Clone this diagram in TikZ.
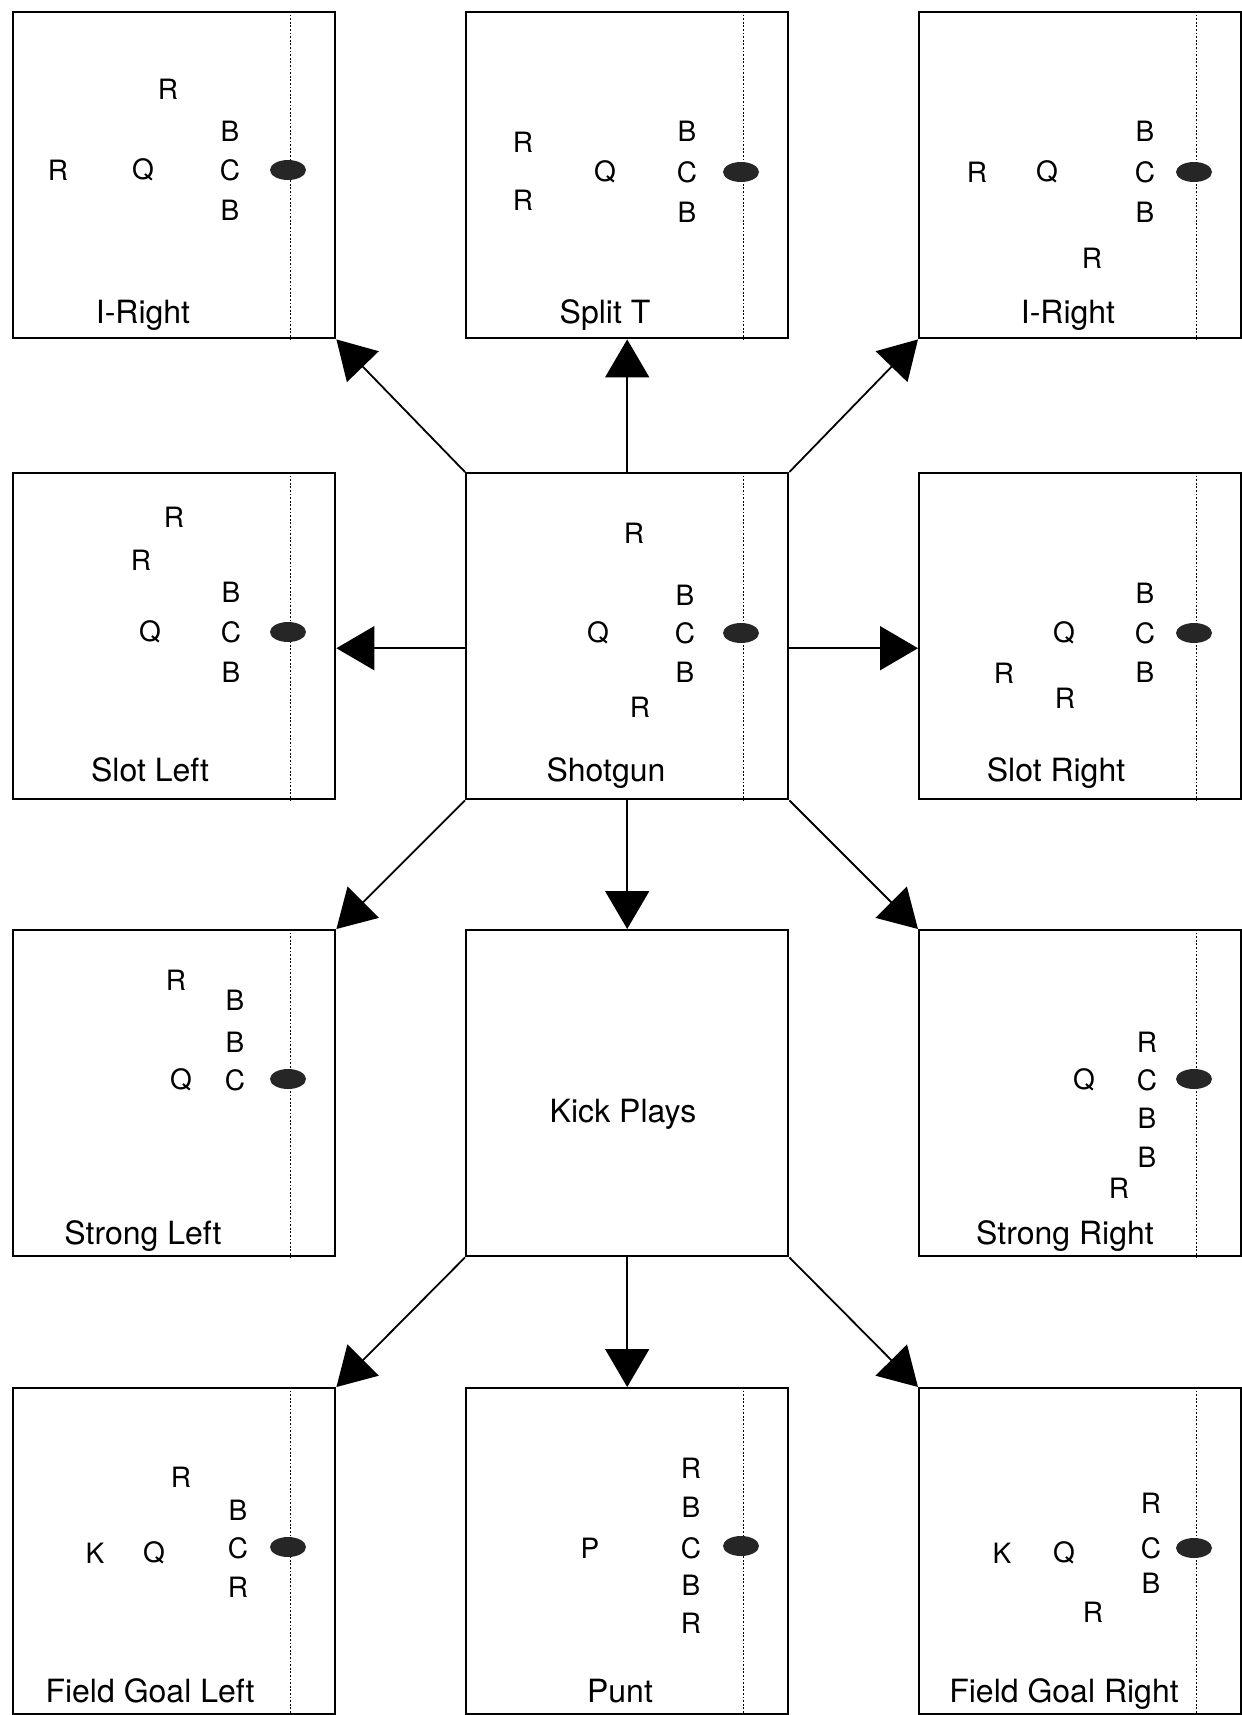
\documentclass[tikz,border=0pt]{standalone}
\usepackage{fontspec}
\setmainfont{TeX Gyre Heros}
\usetikzlibrary{arrows.meta,shapes.geometric}
\newcommand{\bw}{161pt}
\newcommand{\bh}{163pt}

\begin{document}
\begin{tikzpicture}[x=0.5pt,y=-0.5pt,
    box/.style={draw, rectangle, anchor=north west, minimum width=\bw, minimum height=\bh, line width=1.2pt, inner sep=0pt},
    man/.style={font=\fontsize{14}{16}\selectfont, inner sep=0pt},
    playname/.style={font=\fontsize{16}{18}\selectfont, anchor=base, inner sep=0pt},
    ball/.style={ellipse, fill=black!85, minimum width=18pt, minimum height=10pt, inner sep=0pt},
    yard/.style={dash pattern=on 0.9pt off 0.9pt, line width=0.9pt},
    arr/.style={line width=0.9pt, -{Triangle[length=19pt,width=22pt]}}]
    \useasboundingbox (0,0) rectangle (1242,1715);

    % Boxes
    \node[box] (iright-a) at (12,11) {};
    \node[box] (splitt) at (465,11) {};
    \node[box] (iright-b) at (918,11) {};

    \node[box] (slotleft) at (12,472) {};
    \node[box] (shotgun) at (465,472) {};
    \node[box] (slotright) at (918,472) {};

    \node[box] (strongleft) at (12,929) {};
    \node[box] (kick) at (465,929) {};
    \node[box] (strongright) at (918,929) {};

    \node[box] (fgleft) at (12,1387) {};
    \node[box] (punt) at (465,1387) {};
    \node[box] (fgright) at (918,1387) {};

    % Lines of scrimmage
    \draw[yard] ([xshift=-23pt]iright-a.north east) -- ([xshift=-23pt]iright-a.south east);
    \draw[yard] ([xshift=-23pt]splitt.north east) -- ([xshift=-23pt]splitt.south east);
    \draw[yard] ([xshift=-23pt]iright-b.north east) -- ([xshift=-23pt]iright-b.south east);
    \draw[yard] ([xshift=-23pt]slotleft.north east) -- ([xshift=-23pt]slotleft.south east);
    \draw[yard] ([xshift=-23pt]shotgun.north east) -- ([xshift=-23pt]shotgun.south east);
    \draw[yard] ([xshift=-23pt]slotright.north east) -- ([xshift=-23pt]slotright.south east);
    \draw[yard] ([xshift=-23pt]strongleft.north east) -- ([xshift=-23pt]strongleft.south east);
    \draw[yard] ([xshift=-23pt]strongright.north east) -- ([xshift=-23pt]strongright.south east);
    \draw[yard] ([xshift=-23pt]fgleft.north east) -- ([xshift=-23pt]fgleft.south east);
    \draw[yard] ([xshift=-23pt]punt.north east) -- ([xshift=-23pt]punt.south east);
    \draw[yard] ([xshift=-23pt]fgright.north east) -- ([xshift=-23pt]fgright.south east);

    % First row
    \node[man] (iright-a-r1) at (168,89) {R};
    \node[man] (iright-a-r2) at (58,170) {R};
    \node[man] (iright-a-q) at (143,170) {Q};
    \node[man] (iright-a-b1) at (230,131) {B};
    \node[man] (iright-a-c) at (230,170) {C};
    \node[man] (iright-a-b2) at (230,210) {B};
    \node[ball] (iright-a-ball) at (288,170) {};
    \node[playname] (iright-a-name) at (143,323) {I-Right};

    \node[man] (splitt-r1) at (523,142) {R};
    \node[man] (splitt-r2) at (523,200) {R};
    \node[man] (splitt-q) at (605,172) {Q};
    \node[man] (splitt-b1) at (687,131) {B};
    \node[man] (splitt-c) at (687,172) {C};
    \node[man] (splitt-b2) at (687,212) {B};
    \node[ball] (splitt-ball) at (741,172) {};
    \node[playname] (splitt-name) at (605,323) {Split T};

    \node[man] (iright-b-r1) at (977,172) {R};
    \node[man] (iright-b-q) at (1047,172) {Q};
    \node[man] (iright-b-b1) at (1145,131) {B};
    \node[man] (iright-b-c) at (1145,172) {C};
    \node[man] (iright-b-b2) at (1145,212) {B};
    \node[man] (iright-b-r2) at (1092,258) {R};
    \node[ball] (iright-b-ball) at (1194,172) {};
    \node[playname] (iright-b-name) at (1068,323) {I-Right};

    % Second row
    \node[man] (slotleft-r1) at (174,517) {R};
    \node[man] (slotleft-r2) at (141,560) {R};
    \node[man] (slotleft-b1) at (231,592) {B};
    \node[man] (slotleft-q) at (150,632) {Q};
    \node[man] (slotleft-c) at (231,632) {C};
    \node[man] (slotleft-b2) at (231,672) {B};
    \node[ball] (slotleft-ball) at (288,632) {};
    \node[playname] (slotleft-name) at (150,781) {Slot Left};

    \node[man] (shotgun-r1) at (634,533) {R};
    \node[man] (shotgun-b1) at (685,595) {B};
    \node[man] (shotgun-q) at (598,633) {Q};
    \node[man] (shotgun-c) at (685,633) {C};
    \node[man] (shotgun-b2) at (685,672) {B};
    \node[man] (shotgun-r2) at (640,707) {R};
    \node[ball] (shotgun-ball) at (741,633) {};
    \node[playname] (shotgun-name) at (606,781) {Shotgun};

    \node[man] (slotright-b1) at (1145,593) {B};
    \node[man] (slotright-q) at (1064,633) {Q};
    \node[man] (slotright-c) at (1145,633) {C};
    \node[man] (slotright-r1) at (1004,673) {R};
    \node[man] (slotright-b2) at (1145,672) {B};
    \node[man] (slotright-r2) at (1065,698) {R};
    \node[ball] (slotright-ball) at (1194,633) {};
    \node[playname] (slotright-name) at (1056,781) {Slot Right};

    % Third row
    \node[man] (strongleft-r) at (176,980) {R};
    \node[man] (strongleft-b1) at (235,1000) {B};
    \node[man] (strongleft-b2) at (235,1042) {B};
    \node[man] (strongleft-q) at (181,1080) {Q};
    \node[man] (strongleft-c) at (235,1080) {C};
    \node[ball] (strongleft-ball) at (288,1079) {};
    \node[playname] (strongleft-name) at (143,1244) {Strong Left};

    \node[playname] (kick-name) at (623,1122) {Kick Plays};

    \node[man] (strongright-r1) at (1147,1042) {R};
    \node[man] (strongright-q) at (1084,1080) {Q};
    \node[man] (strongright-c) at (1147,1080) {C};
    \node[man] (strongright-b1) at (1147,1118) {B};
    \node[man] (strongright-b2) at (1147,1157) {B};
    \node[man] (strongright-r2) at (1119,1188) {R};
    \node[ball] (strongright-ball) at (1194,1079) {};
    \node[playname] (strongright-name) at (1065,1244) {Strong Right};

    % Fourth row
    \node[man] (fgleft-r1) at (181,1477) {R};
    \node[man] (fgleft-b) at (238,1510) {B};
    \node[man] (fgleft-k) at (95,1553) {K};
    \node[man] (fgleft-q) at (154,1553) {Q};
    \node[man] (fgleft-c) at (238,1548) {C};
    \node[man] (fgleft-r2) at (238,1587) {R};
    \node[ball] (fgleft-ball) at (288,1547) {};
    \node[playname] (fgleft-name) at (150,1702) {Field Goal Left};

    \node[man] (punt-r1) at (691,1468) {R};
    \node[man] (punt-b1) at (691,1507) {B};
    \node[man] (punt-p) at (590,1548) {P};
    \node[man] (punt-c) at (691,1548) {C};
    \node[man] (punt-b2) at (691,1585) {B};
    \node[man] (punt-r2) at (691,1623) {R};
    \node[ball] (punt-ball) at (741,1546) {};
    \node[playname] (punt-name) at (620,1702) {Punt};

    \node[man] (fgright-r1) at (1151,1503) {R};
    \node[man] (fgright-k) at (1002,1553) {K};
    \node[man] (fgright-q) at (1064,1553) {Q};
    \node[man] (fgright-c) at (1151,1548) {C};
    \node[man] (fgright-b) at (1151,1583) {B};
    \node[man] (fgright-r2) at (1093,1612) {R};
    \node[ball] (fgright-ball) at (1194,1548) {};
    \node[playname] (fgright-name) at (1064,1702) {Field Goal Right};

    % Arrows
    \draw[arr] (shotgun.north west) -- (iright-a.south east);
    \draw[arr] (shotgun.north) -- (splitt.south);
    \draw[arr] (shotgun.north east) -- (iright-b.south west);
    \draw[arr] ([yshift=-6pt]shotgun.west) -- ([yshift=-6pt]slotleft.east);
    \draw[arr] ([yshift=-6pt]shotgun.east) -- ([yshift=-6pt]slotright.west);
    \draw[arr] (shotgun.south west) -- (strongleft.north east);
    \draw[arr] (shotgun.south) -- (kick.north);
    \draw[arr] (shotgun.south east) -- (strongright.north west);
    \draw[arr] (kick.south west) -- (fgleft.north east);
    \draw[arr] (kick.south) -- (punt.north);
    \draw[arr] (kick.south east) -- (fgright.north west);
\end{tikzpicture}
\end{document}
